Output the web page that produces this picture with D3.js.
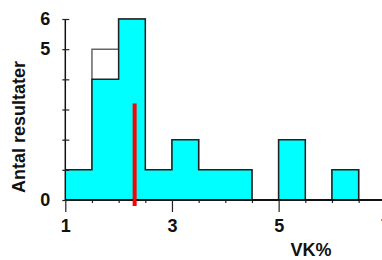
<!DOCTYPE html>
<html>
<head>
<meta charset="utf-8">
<script src="https://cdn.jsdelivr.net/npm/d3@7"></script>
<style>
  body { margin: 0; background: #fff; }
  svg { display: block; font-family: "Liberation Sans", Arial, sans-serif; }
</style>
</head>
<body>
<div id="chart"></div>
<script>
"use strict";

// histogram bins (start of each 0.5 wide bin)
var binStart = [1.0, 1.5, 2.0, 2.5, 3.0, 3.5, 4.0, 4.5, 5.0, 5.5, 6.0, 6.5];
var counts   = [1,   4,   6,   1,   2,   1,   1,   0,   2,   0,   1,   0];
var totals   = [1,   5,   6,   1,   2,   1,   1,   0,   2,   0,   1,   0];
var xTicks = [1, 3, 5, 7];
var yLabels = [0, 5, 6];
var refValue = 2.3, refHeight = 3.2;

var width = 382, height = 260;

var svg = d3.select("#chart").append("svg")
    .attr("width", width)
    .attr("height", height)

var x = d3.scaleLinear().domain([1, 7]).range([65.3, 385.3]);
var y = d3.scaleLinear().domain([0, 6]).range([200, 19]);

function points(vals) {
  var p = binStart.map(function(b, i) { return [b, vals[i]] });
  p.push([7, 0]);
  return p;
}

var line = d3.line()
    .x(function(d) { return x(d[0]) })
    .y(function(d) { return y(d[1]) })
    .curve(d3.curveStepAfter);

var area = d3.area()
    .x(function(d) { return x(d[0]) })
    .y0(y(0))
    .y1(function(d) { return y(d[1]) })
    .curve(d3.curveStepAfter);

// outline of the total (grey, unfilled)
svg.append("path")
    .attr("d", line(points(totals)))
    .attr("fill", "none")
    .attr("stroke", "#666")
    .attr("stroke-width", 1.5);

svg.append("path")
    .attr("d", area(points(counts)))
    .attr("fill", "#00ffff");

svg.append("path")
    .attr("d", line(points(counts)))
    .attr("fill", "none")
    .attr("stroke", "#222")
    .attr("stroke-width", 1.5);

// minor ticks on x
var minor = d3.range(1.5, 7, 0.5).filter(function(v) { return xTicks.indexOf(v) < 0 });
svg.append("g")
    .attr("transform", "translate(0," + y(0) + ")")
    .call(d3.axisBottom(x).tickValues(minor).tickSize(3).tickFormat("").tickSizeOuter(0))
    .call(function(g) { g.select(".domain").remove() })
    .selectAll("line").attr("stroke", "#222").attr("stroke-width", 1.2);

var xAxis = svg.append("g")
    .attr("transform", "translate(0," + y(0) + ")")
    .call(d3.axisBottom(x).tickValues(xTicks).tickSize(12).tickPadding(7).tickSizeOuter(0).tickFormat(d3.format("d")));
xAxis.select(".domain").attr("stroke", "#111").attr("stroke-width", 2).attr("d", "M" + x(1) + ",0H" + width);
xAxis.selectAll("line").attr("stroke", "#222").attr("stroke-width", 1.2);
xAxis.selectAll("text").attr("font-size", 18).attr("font-weight", "bold").attr("fill", "#111")
    .attr("font-family", "Liberation Sans, Arial, sans-serif");

var yAxis = svg.append("g")
    .attr("transform", "translate(" + x(1) + ",0)")
    .call(d3.axisLeft(y).tickValues(d3.range(0, 7)).tickSize(3).tickPadding(12).tickSizeOuter(0)
      .tickFormat(function(d) { return yLabels.indexOf(d) >= 0 ? d : "" }));
yAxis.select(".domain").attr("stroke", "#111").attr("stroke-width", 1.5).attr("d", "M0," + y(6) + "V" + y(0));
yAxis.selectAll("line").attr("x1", 4).attr("stroke", "#222").attr("stroke-width", 1.2);
yAxis.selectAll("text").attr("font-size", 18).attr("font-weight", "bold").attr("fill", "#111")
    .attr("font-family", "Liberation Sans, Arial, sans-serif");

// reference line
svg.append("line")
    .attr("x1", x(refValue)).attr("x2", x(refValue))
    .attr("y1", y(0) + 6).attr("y2", y(refHeight))
    .attr("stroke", "#ff0000")
    .attr("stroke-width", 4);

svg.append("text")
    .attr("x", 311).attr("y", 256)
    .attr("text-anchor", "middle")
    .attr("font-size", 18).attr("font-weight", "bold").attr("fill", "#111")
    .text("VK%");

svg.append("text")
    .attr("transform", "translate(25,127) rotate(-90)")
    .attr("text-anchor", "middle")
    .attr("font-size", 18).attr("font-weight", "bold").attr("fill", "#111")
    .text("Antal resultater");
</script>
</body>
</html>
